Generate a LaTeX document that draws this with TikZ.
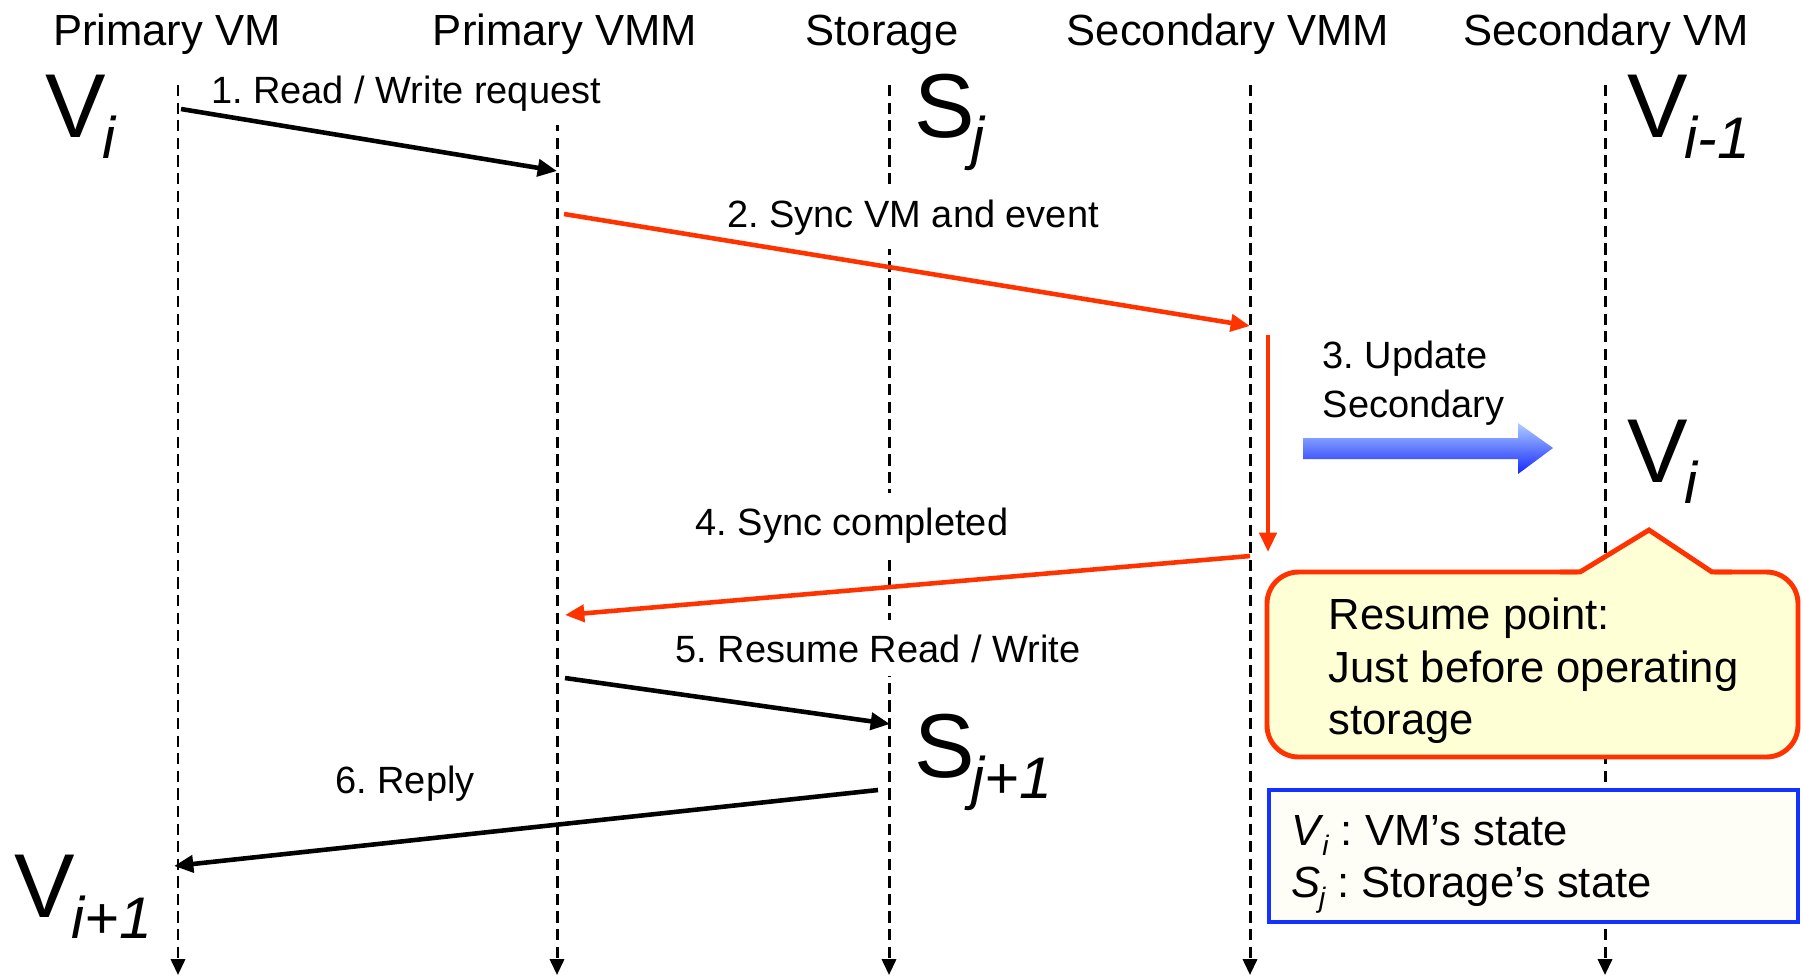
\documentclass[tikz,border=0pt]{standalone}
\usepackage{fontspec}
\setmainfont{Liberation Sans}
\usetikzlibrary{arrows.meta}
\frenchspacing
\definecolor{syncred}{RGB}{255,51,0}
\definecolor{keyblue}{RGB}{20,50,255}
\definecolor{noteyellow}{RGB}{255,255,213}
\definecolor{keyfill}{RGB}{254,254,246}
\definecolor{arrowtop}{RGB}{175,205,255}
\definecolor{arrowbot}{RGB}{20,40,255}
\newcommand{\bigstate}[2]{{\fontsize{25.8}{30}\selectfont #1}\kern-1pt\raisebox{-6pt}{\fontsize{16.7}{20}\selectfont\itshape #2}}
\newcommand{\keystate}[2]{\textit{#1}\kern-0.5pt\raisebox{-3pt}{\fontsize{8}{9}\selectfont\itshape #2}}

\begin{document}
\begin{tikzpicture}[x=0.01cm, y=-0.01cm,
    lifeline/.style={line width=0.85pt, dash pattern=on 3.2pt off 1.8pt, -{Triangle[length=4.5pt,width=4pt]}},
    msg/.style={line width=1.3pt, -{Triangle[length=5.5pt,width=4.8pt]}},
    syncmsg/.style={msg, color=syncred},
    hdr/.style={anchor=base, inner sep=0pt, font=\fontsize{12.4}{15}\selectfont},
    lbl/.style={anchor=base, fill=white, inner xsep=2pt, inner ysep=4pt, font=\fontsize{10.8}{14}\selectfont},
    state/.style={anchor=base west, inner sep=0pt},
    keytext/.style={anchor=base west, inner sep=0pt, font=\fontsize{12.4}{15}\selectfont}]
                \fill[white] (0,0) rectangle (1803,975);
                \useasboundingbox (0,0) rectangle (1803,975);
                % headers
                \node[hdr] (pvm) at (167,45) {Primary VM};
                \node[hdr] (pvmm) at (565,45) {Primary VMM};
                \node[hdr] (sto) at (882,45) {Storage};
                \node[hdr] (svmm) at (1228,45) {Secondary VMM};
                \node[hdr] (svm) at (1606,45) {Secondary VM};
                % lifelines
                \foreach \x/\n in {178/pvm, 557/pvmm, 889/sto, 1250/svmm, 1605/svm} {
                    \coordinate (\n-t) at (\x,85);
                    \coordinate (\n-b) at (\x,975);
                    \draw[lifeline] (\n-t) -- (\n-b);
                }
                % message labels
                \node[lbl] (l1) at (406,103) {1. Read / Write request};
                \node[lbl] (l2) at (913,227) {2. Sync VM and event};
                \node[lbl, anchor=north west, align=left, fill=none, inner sep=0pt] (l3) at (1322,340) {3. Update\\Secondary};
                \node[lbl] (l4) at (852,535) {4. Sync completed};
                \node[lbl] (l5) at (878,662) {5. Resume Read / Write};
                \node[lbl] (l6) at (405,793) {6. Reply};
                % messages
                \coordinate (m1s) at (181,109);  \coordinate (m1e) at (557,171);
                \coordinate (m2s) at (564,214);  \coordinate (m2e) at (1250,326);
                \coordinate (m3s) at (1268,335); \coordinate (m3e) at (1268,552);
                \coordinate (m4s) at (1250,556); \coordinate (m4e) at (565,615);
                \coordinate (m5s) at (565,678);  \coordinate (m5e) at (890,724);
                \coordinate (m6s) at (878,790);  \coordinate (m6e) at (174,866);
                \draw[msg] (m1s) -- (m1e);
                \draw[syncmsg] (m2s) -- (m2e);
                \draw[syncmsg] (m3s) -- (m3e);
                \draw[syncmsg] (m4s) -- (m4e);
                \draw[msg] (m5s) -- (m5e);
                \draw[msg] (m6s) -- (m6e);
                % update arrow
                \shade[top color=arrowtop, bottom color=arrowbot] (1303,438) -- (1518,438) -- (1518,423) -- (1553,448) -- (1518,474) -- (1518,459) -- (1303,459) -- cycle;
                % resume note
                \draw[line width=1.4pt, draw=syncred, fill=noteyellow, rounded corners=9pt] (1267,572) rectangle (1798,757);
                \fill[noteyellow] (1574,577) -- (1649,530) -- (1718,577) -- cycle;
                \draw[line width=1.4pt, draw=syncred, miter limit=20] (1560,572) -- (1580,572) -- (1649,530) -- (1712,572) -- (1732,572);
                \node[keytext, anchor=north west, align=left] (resume) at (1328,597) {Resume point:\\Just before operating\\storage};
                % key
                \draw[line width=1.4pt, draw=keyblue, fill=keyfill] (1269,790) rectangle (1798,922);
                \node[keytext] (kv) at (1291,845) {\keystate{V}{i} : VM’s state};
                \node[keytext] (ks) at (1291,897) {\keystate{S}{j} : Storage’s state};
                % states
                \node[state] (vi) at (45,137) {\bigstate{V}{i}};
                \node[state] (sj) at (914,137) {\bigstate{S}{j}};
                \node[state] (vprev) at (1627,137) {\bigstate{V}{i-1}};
                \node[state] (vnew) at (1627,482) {\bigstate{V}{i}};
                \node[state] (sjnext) at (914,777) {\bigstate{S}{j+1}};
                \node[state] (vnext) at (14,917) {\bigstate{V}{i+1}};
            \end{tikzpicture}
\end{document}
